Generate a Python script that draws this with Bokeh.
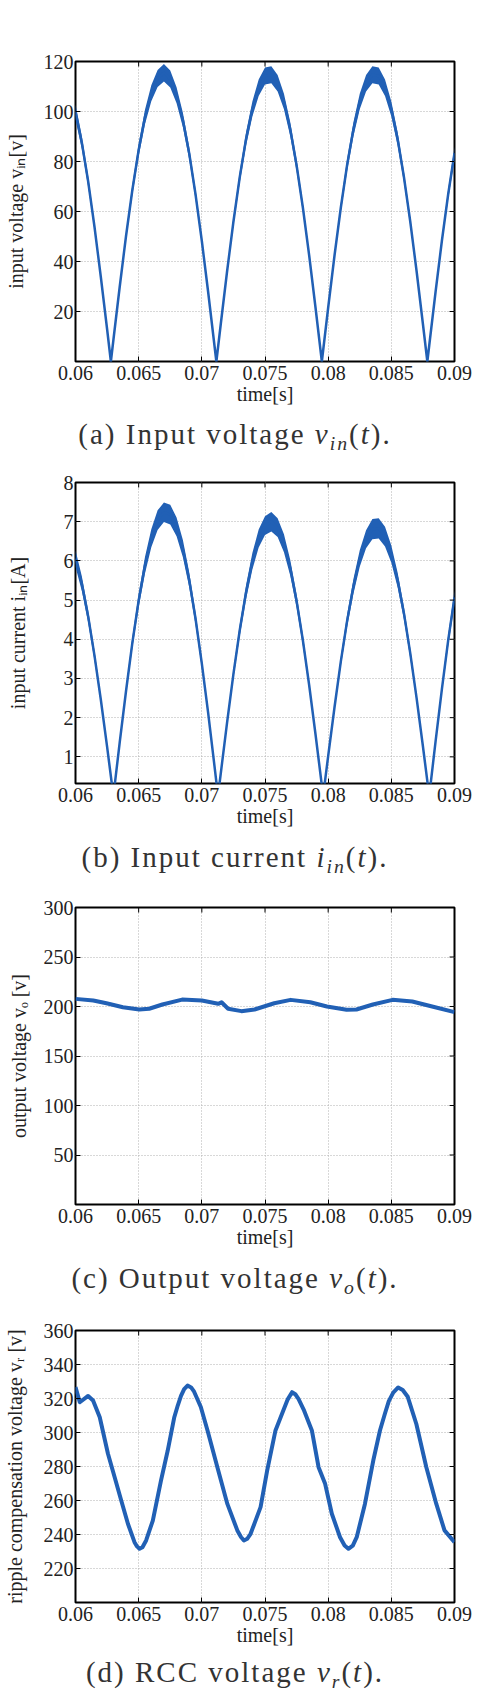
from bokeh.plotting import figure
from bokeh.layouts import column
from bokeh.models import Div, FixedTicker, LinearAxis, NumeralTickFormatter, Range1d, Grid
from bokeh.embed import file_html
from bokeh.resources import INLINE

# ---------------- data ----------------
x_ticks = [0.06, 0.065, 0.07, 0.075, 0.08, 0.085, 0.09]

# (a) input voltage
t_a = [0.0600, 0.0605, 0.0610, 0.0615, 0.0620, 0.0625, 0.0628,
       0.0630, 0.0635, 0.0640, 0.0645, 0.0650, 0.0655, 0.0660, 0.0665, 0.0670, 0.0675,
       0.0680, 0.0685, 0.0690, 0.0695, 0.0700, 0.0705, 0.0710, 0.07115,
       0.0715, 0.0720, 0.0725, 0.0730, 0.0735, 0.0740, 0.0745, 0.0750, 0.0755, 0.0760,
       0.0765, 0.0770, 0.0775, 0.0780, 0.0785, 0.0790, 0.0795,
       0.0800, 0.0805, 0.0810, 0.0815, 0.0820, 0.0825, 0.0830, 0.0835, 0.0840, 0.0845,
       0.0850, 0.0855, 0.0860, 0.0865, 0.0870, 0.0875, 0.08785,
       0.0880, 0.0885, 0.0890, 0.0895, 0.0900]
v_in = [99.8, 87.6, 72.1, 54.0, 34.0, 13.0, 0.0,
        8.6, 29.9, 50.2, 68.6, 84.6, 97.8, 107.3, 113.2, 115.5, 113.0,
        106.5, 96.6, 83.3, 66.9, 48.2, 27.8, 6.4, 0.0,
        15.0, 36.1, 55.9, 73.7, 89.0, 101.0, 109.5, 114.2, 114.7, 111.3,
        104.0, 92.9, 78.5, 61.5, 42.3, 21.5, 0.0,
        21.5, 42.3, 61.5, 78.6, 92.9, 104.0, 111.3, 114.7, 114.2, 109.5,
        101.0, 89.0, 73.7, 55.9, 36.1, 15.0, 0.0,
        6.4, 27.8, 48.2, 66.9, 83.3]
v_in_noise = [3.0, 2.6, 2.2, 1.6, 1.0, 0.4, 0.2,
              0.3, 0.9, 1.5, 2.1, 2.5, 2.9, 3.2, 3.4, 3.5, 3.4,
              3.2, 2.9, 2.5, 2.0, 1.4, 0.8, 0.2, 0.2,
              0.4, 1.1, 1.7, 2.2, 2.7, 3.0, 3.3, 3.4, 3.4, 3.3,
              3.1, 2.8, 2.4, 1.8, 1.3, 0.6, 0.2,
              0.6, 1.3, 1.8, 2.4, 2.8, 3.1, 3.3, 3.4, 3.4, 3.3,
              3.0, 2.7, 2.2, 1.7, 1.1, 0.4, 0.2,
              0.2, 0.8, 1.4, 2.0, 2.5]
y_ticks_a = [20, 40, 60, 80, 100, 120]

# (b) input current
t_b = [0.0600, 0.0605, 0.0610, 0.0615, 0.0620, 0.0625, 0.0630,
       0.0635, 0.0640, 0.0645, 0.0650, 0.0655, 0.0660, 0.0665, 0.0670,
       0.0675, 0.0680, 0.0685, 0.0690, 0.0695, 0.0700, 0.0705, 0.0710, 0.07128,
       0.0715, 0.0720, 0.0725, 0.0730, 0.0735, 0.0740, 0.0745, 0.0750, 0.0755,
       0.0760, 0.0765, 0.0770, 0.0775, 0.0780, 0.0785, 0.0790, 0.0795, 0.0796,
       0.0800, 0.0805, 0.0810, 0.0815, 0.0820, 0.0825, 0.0830, 0.0835,
       0.0840, 0.0845, 0.0850, 0.0855, 0.0860, 0.0865, 0.0870, 0.0875, 0.0880,
       0.0885, 0.0890, 0.0895, 0.0900]
i_in = [6.06, 5.42, 4.59, 3.59, 2.47, 1.26, 0.0,
        1.37, 2.68, 3.91, 4.99, 5.89, 6.58, 7.04, 7.24,
        7.18, 6.87, 6.31, 5.52, 4.53, 3.38, 2.12, 0.77, 0.0,
        0.58, 1.88, 3.11, 4.23, 5.20, 5.99, 6.57, 6.90, 7.00,
        6.85, 6.45, 5.82, 4.98, 3.97, 2.82, 1.57, 0.27, 0.0,
        1.02, 2.26, 3.43, 4.47, 5.35, 6.06, 6.55, 6.81,
        6.83, 6.62, 6.17, 5.51, 4.66, 3.64, 2.50, 1.27, 0.0,
        1.39, 2.72, 3.97, 5.07]
i_in_noise = [0.21, 0.19, 0.16, 0.13, 0.09, 0.05, 0.03,
              0.05, 0.09, 0.14, 0.17, 0.21, 0.23, 0.25, 0.25,
              0.25, 0.24, 0.22, 0.19, 0.16, 0.12, 0.07, 0.03, 0.03,
              0.03, 0.07, 0.11, 0.15, 0.18, 0.21, 0.23, 0.24, 0.25,
              0.24, 0.23, 0.20, 0.17, 0.14, 0.10, 0.05, 0.03, 0.03,
              0.04, 0.08, 0.12, 0.16, 0.19, 0.21, 0.23, 0.26,
              0.26, 0.25, 0.22, 0.19, 0.16, 0.13, 0.09, 0.04, 0.03,
              0.05, 0.10, 0.14, 0.18]
y_ticks_b = [1, 2, 3, 4, 5, 6, 7, 8]

# (c) output voltage
t_c = [0.0600, 0.06141, 0.06245, 0.06375, 0.06505, 0.06583, 0.06688, 0.06844,
       0.0700, 0.0713, 0.07156, 0.07208, 0.07313, 0.07417, 0.07573, 0.07703,
       0.07859, 0.0799, 0.08146, 0.08224, 0.08354, 0.0851, 0.08666, 0.08823, 0.0900]
v_o = [207.7, 206.0, 203.3, 199.3, 197.0, 197.7, 202.0, 207.0,
       206.0, 202.7, 204.3, 197.7, 195.3, 197.0, 203.3, 206.7,
       204.3, 200.0, 196.7, 197.0, 202.0, 206.7, 205.0, 200.0, 194.3]
y_ticks_c = [50, 100, 150, 200, 250, 300]

# (d) ripple compensation voltage
t_d = [0.0600, 0.06034, 0.0610, 0.06139, 0.06192, 0.06257, 0.0631, 0.06362,
       0.06415, 0.06467, 0.06487, 0.06507, 0.06530, 0.06559, 0.06612, 0.06677,
       0.0673, 0.06782, 0.06810, 0.06835, 0.06860, 0.06887, 0.06915, 0.06939,
       0.06992, 0.07045, 0.07123, 0.07202, 0.07281, 0.07310, 0.07333, 0.07360,
       0.07386, 0.07465, 0.07517, 0.07583, 0.07648, 0.07680, 0.07714, 0.07740,
       0.07765, 0.07806, 0.07871, 0.07924, 0.07976, 0.08029, 0.08094, 0.08130,
       0.0816, 0.08195, 0.08226, 0.08291, 0.08357, 0.0841, 0.08449, 0.0848,
       0.08515, 0.08554, 0.08590, 0.0863, 0.08698, 0.08777, 0.08856, 0.08921,
       0.0900]
v_r = [326.7, 317.8, 321.5, 318.8, 309.0, 287.5, 273.7, 260.0,
       246.3, 235.5, 233.0, 231.6, 232.5, 236.5, 248.2, 271.8,
       289.4, 309.0, 316.0, 321.5, 325.5, 327.6, 326.5, 324.0,
       315.0, 301.2, 279.6, 258.0, 242.4, 238.5, 236.5, 237.5,
       240.4, 256.1, 277.6, 301.2, 313.5, 319.5, 323.7, 322.5,
       319.8, 313.5, 301.2, 279.6, 269.8, 252.2, 238.4, 233.5,
       231.6, 233.5, 238.4, 258.0, 283.5, 301.2, 311.0, 318.5,
       323.5, 326.5, 325.0, 321.0, 305.0, 279.6, 258.0, 242.4,
       235.5]
y_ticks_d = [220, 240, 260, 280, 300, 320, 340, 360]

# ---------------- styling ----------------
LINE = "#2160b5"
FONT = "Liberation Serif"
TXT = "#222222"
TICK_LEN = 5


def panel(t, y, noise, y_range, y_ticks, y_label, frame_left, frame_right,
          height, border_top, label_standoff, lw):
    border_bottom = 55
    p = figure(width=479, height=height,
               x_range=Range1d(0.06, 0.09), y_range=Range1d(*y_range),
               output_backend="svg", toolbar_location=None,
               min_border_left=frame_left, min_border_right=479 - frame_right,
               min_border_top=border_top, min_border_bottom=border_bottom,
               x_axis_type=None, y_axis_type=None)
    p.background_fill_color = "white"
    p.border_fill_color = "white"
    p.outline_line_color = "black"
    p.outline_line_width = 2

    xt = FixedTicker(ticks=x_ticks)
    yt = FixedTicker(ticks=y_ticks)

    xb = LinearAxis(ticker=xt, formatter=NumeralTickFormatter(format="0.0[00]"),
                    axis_label="time[s]")
    yl = LinearAxis(ticker=yt, axis_label=y_label)
    for ax in (xb, yl):
        ax.axis_line_color = None
        ax.major_tick_in = TICK_LEN
        ax.major_tick_out = 0
        ax.major_tick_line_color = "black"
        ax.major_tick_line_width = 1
        ax.minor_tick_line_color = None
        ax.major_label_text_font = FONT
        ax.major_label_text_font_size = "20px"
        ax.major_label_text_color = TXT
        ax.axis_label_text_font = FONT
        ax.axis_label_text_font_size = "20px"
        ax.axis_label_text_font_style = "normal"
        ax.axis_label_text_color = TXT
    xb.major_label_standoff = 4
    xb.axis_label_standoff = 0
    yl.major_label_standoff = 2
    yl.axis_label_standoff = label_standoff
    p.add_layout(xb, "below")
    p.add_layout(yl, "left")

    for dim, tk in ((0, xt), (1, yt)):
        p.add_layout(Grid(dimension=dim, ticker=tk, grid_line_color="#b0b0b0",
                          grid_line_dash="1 2", grid_line_width=1))

    if noise is not None:
        lo = [a - b for a, b in zip(y, noise)]
        hi = [a + b for a, b in zip(y, noise)]
        p.varea(x=t, y1=lo, y2=hi, fill_color=LINE, fill_alpha=1.0)
    p.line(t, y, line_color=LINE, line_width=lw, line_join="round")

    # mirrored (inward) tick marks on the top and right edges of the box
    frame_h = height - border_top - border_bottom
    frame_w = frame_right - frame_left
    y0, y1 = y_range
    dy = (y1 - y0) * TICK_LEN / frame_h
    dx = (0.09 - 0.06) * TICK_LEN / frame_w
    p.segment(x0=x_ticks, y0=[y1] * len(x_ticks), x1=x_ticks, y1=[y1 - dy] * len(x_ticks),
              line_color="black", line_width=1)
    p.segment(x0=[0.09] * len(y_ticks), y0=y_ticks, x1=[0.09 - dx] * len(y_ticks), y1=y_ticks,
              line_color="black", line_width=1)
    return p


def caption(html, height, line_h):
    style = ("width:470px;line-height:%dpx;text-align:center;"
             "font-family:'Liberation Serif',serif;font-size:29px;letter-spacing:2px;"
             "color:#333333;white-space:nowrap;margin:0;padding:0;") % line_h
    return Div(text='<div style="%s">%s</div>' % (style, html),
               width=479, height=height, margin=0)


SUB = '<span style="font-size:0.68em;font-style:italic;vertical-align:-0.3em;line-height:0;">%s</span>'

p1 = panel(t_a, v_in, v_in_noise, (0, 120), y_ticks_a, "input voltage v\u1d62\u2099[v]",
           73, 454, 416, 61, 14, 2.5)
c1 = caption('(a) Input voltage <i>v</i>' + SUB % "in" + '(<i>t</i>).', 42, 36)
p2 = panel(t_b, i_in, i_in_noise, (0.32, 8), y_ticks_b, "input current i\u1d62\u2099[A]",
           66, 456, 380, 24, 32, 2.5)
c2 = caption('(b) Input current <i>i</i>' + SUB % "in" + '(<i>t</i>).', 44, 38)
p3 = panel(t_c, v_o, None, (0, 300), y_ticks_c, "output voltage v\u2092 [v]",
           72, 456, 377, 25, 11, 4)
c3 = caption('(c) Output voltage <i>v</i>' + SUB % "o" + '(<i>t</i>).', 44, 38)
p4 = panel(t_d, v_r, None, (200, 360), y_ticks_d, "ripple compensation voltage v\u1d63 [v]",
           74, 455, 354, 27, 15, 4)
c4 = caption('(d) RCC voltage <i>v</i>' + SUB % "r" + '(<i>t</i>).', 40, 30)

layout = column(p1, c1, p2, c2, p3, c3, p4, c4, spacing=0)
open("out.html", "w").write(file_html(layout, INLINE))
